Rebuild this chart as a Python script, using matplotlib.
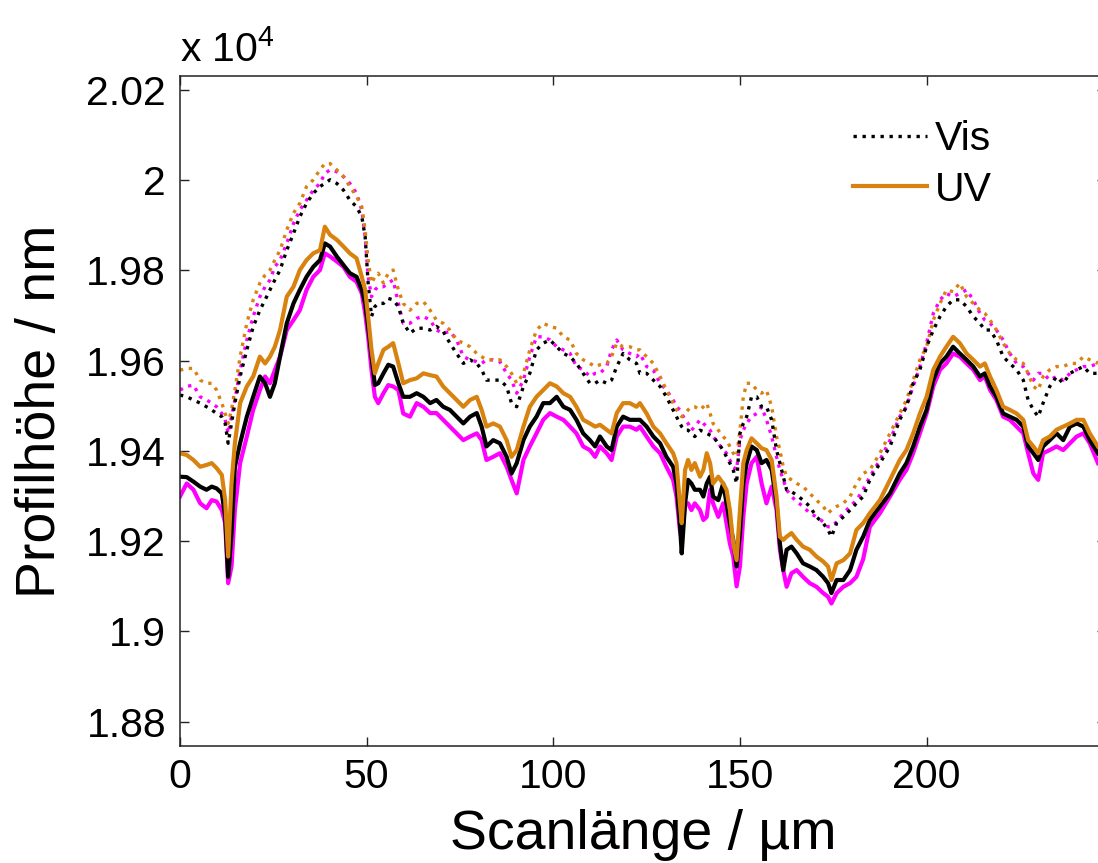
import matplotlib
matplotlib.use("Agg")
import matplotlib.pyplot as plt
from matplotlib.ticker import FuncFormatter

plt.rcParams['font.family'] = ['Liberation Sans', 'DejaVu Sans']
plt.rcParams['mathtext.fontset'] = 'custom'
plt.rcParams['mathtext.rm'] = 'Liberation Sans'
plt.rcParams['mathtext.default'] = 'regular'

# Scan length (µm)
x_um = [
    0.0, 1.8, 3.6, 5.4, 7.1, 8.5, 9.8, 11.2, 12.1, 12.9, 13.8, 14.7, 16.1, 17.9, 19.6, 21.4, 22.8, 24.1, 25.4, 26.8,
    28.6, 30.4, 32.1, 33.9, 35.7, 37.5, 38.8, 40.2, 42.0, 43.8, 45.5, 47.3, 48.7, 49.6, 50.4, 51.3, 52.2, 53.1, 54.5, 55.8,
    57.1, 58.5, 59.8,
    61.6, 63.4, 65.2, 67.0, 68.7, 70.5, 72.3, 74.1, 75.9, 77.7, 79.5, 80.8, 82.1, 83.9, 85.7, 87.5, 88.8, 90.2, 92.0, 93.7,
    95.5, 97.3, 99.1, 100.9, 102.7, 104.5, 106.2, 108.0, 109.8, 111.2, 112.5, 114.3, 115.6, 117.0, 118.7, 120.5, 122.3,
    123.2, 125.0, 126.8, 128.6, 130.3, 132.1, 133.0, 133.9, 134.4, 135.3, 136.1, 137.0, 137.9, 139.3, 140.2, 141.1, 142.0, 142.8, 144.2, 145.5,
    146.4, 147.3, 148.2, 149.1, 150.0, 150.9, 151.8, 153.1, 154.5, 155.8, 157.1, 158.5, 159.8, 160.7, 161.6, 162.5, 163.8, 165.2, 166.9, 168.7,
    170.5, 172.3, 173.6, 174.5, 175.9, 177.7, 179.5, 181.2, 183.0,
    184.8, 187.5, 190.2, 192.8, 194.6, 196.4, 198.2, 200.0, 201.8, 203.6, 205.3, 207.1, 208.9, 210.7, 212.5, 214.3, 215.6, 217.0, 218.7, 220.5,
    222.3, 224.1, 225.9, 227.2, 228.6, 229.9, 231.2, 233.0, 234.8, 236.6, 238.4, 240.2, 242.0, 243.7, 245.9,
]

# Profile height (nm) - Vis (dotted)
vis_black = [
    19524, 19520, 19513, 19506, 19498, 19491, 19483, 19476, 19461, 19417, 19461, 19506, 19565, 19624, 19675, 19712, 19735, 19757, 19779, 19801,
    19845, 19882, 19919, 19949, 19971, 19986, 19993, 20001, 19993, 19978, 19956, 19941, 19919, 19875, 19772, 19698, 19720, 19727, 19727, 19738,
    19735, 19720, 19683,
    19661, 19672, 19672, 19668, 19676, 19665, 19639, 19616, 19594, 19602, 19594, 19580, 19557, 19557, 19557, 19543, 19506, 19498, 19543, 19572,
    19624, 19639, 19646, 19631, 19616, 19609, 19594, 19572, 19550, 19550, 19557, 19550, 19557, 19587, 19616, 19602, 19594,
    19572, 19572, 19557, 19543, 19520, 19491, 19476, 19461, 19454, 19446, 19446, 19439, 19432, 19446, 19443, 19439, 19435, 19432, 19417, 19402,
    19387, 19373, 19358, 19328, 19439, 19461, 19476, 19520, 19520, 19498, 19498, 19469, 19402, 19373, 19343, 19314, 19310, 19302, 19291, 19277,
    19254, 19240, 19225, 19210, 19240, 19254, 19269, 19284, 19299,
    19336, 19373, 19410, 19469, 19498, 19550, 19580, 19631, 19668, 19698, 19720, 19735, 19735, 19720, 19698, 19683, 19668, 19668, 19646, 19609,
    19594, 19580, 19557, 19513, 19491, 19476, 19506, 19543, 19565, 19550, 19572, 19580, 19587, 19572, 19572,
]
vis_orange = [
    19579, 19583, 19583, 19557, 19550, 19550, 19535, 19506, 19483, 19461, 19491, 19535, 19609, 19683, 19735, 19772, 19790, 19801, 19823, 19845,
    19890, 19927, 19949, 19986, 20001, 20023, 20037, 20037, 20023, 20008, 19986, 19964, 19941, 19890, 19823, 19772, 19786, 19794, 19772, 19794,
    19801, 19757, 19727,
    19712, 19727, 19731, 19712, 19690, 19683, 19668, 19646, 19639, 19631, 19616, 19609, 19602, 19602, 19602, 19587, 19572, 19550, 19572, 19624,
    19668, 19683, 19676, 19672, 19653, 19646, 19616, 19602, 19594, 19587, 19591, 19594, 19609, 19639, 19631, 19631, 19624,
    19624, 19609, 19594, 19565, 19535, 19506, 19491, 19483, 19476, 19483, 19491, 19498, 19498, 19491, 19498, 19506, 19483, 19461, 19446, 19432,
    19424, 19410, 19395, 19387, 19446, 19520, 19550, 19550, 19535, 19528, 19535, 19498, 19432, 19402, 19365, 19343, 19336, 19328, 19321, 19306,
    19291, 19277, 19262, 19269, 19277, 19284, 19299, 19328, 19350,
    19358, 19395, 19439, 19483, 19513, 19557, 19602, 19631, 19690, 19727, 19757, 19753, 19772, 19742, 19727, 19712, 19705, 19690, 19668, 19639,
    19616, 19602, 19594, 19572, 19543, 19535, 19565, 19580, 19587, 19587, 19594, 19594, 19609, 19602, 19594,
]
vis_magenta = [
    19535, 19543, 19546, 19520, 19513, 19506, 19498, 19483, 19469, 19439, 19476, 19513, 19579, 19646, 19698, 19742, 19764, 19779, 19808, 19823,
    19860, 19904, 19934, 19956, 19978, 19993, 20015, 20023, 20019, 20008, 19993, 19971, 19934, 19875, 19786, 19742, 19757, 19764, 19764, 19772,
    19779, 19727, 19683,
    19683, 19694, 19698, 19690, 19668, 19661, 19665, 19646, 19609, 19602, 19598, 19594, 19602, 19602, 19598, 19572, 19557, 19528, 19557, 19609,
    19653, 19653, 19646, 19631, 19624, 19616, 19587, 19580, 19565, 19572, 19572, 19587, 19624, 19646, 19624, 19616, 19609,
    19616, 19587, 19579, 19550, 19535, 19513, 19498, 19491, 19483, 19469, 19461, 19446, 19454, 19469, 19461, 19454, 19446, 19432, 19417, 19402,
    19395, 19380, 19365, 19358, 19424, 19446, 19461, 19476, 19483, 19498, 19469, 19432, 19387, 19358, 19336, 19314, 19299, 19288, 19277, 19262,
    19254, 19243, 19232, 19232, 19243, 19262, 19277, 19291, 19314,
    19343, 19380, 19424, 19476, 19498, 19543, 19587, 19639, 19705, 19735, 19749, 19742, 19749, 19757, 19735, 19705, 19690, 19683, 19668, 19646,
    19616, 19594, 19587, 19572, 19557, 19572, 19572, 19557, 19565, 19557, 19572, 19580, 19587, 19587, 19594,
]

# Profile height (nm) - UV (solid)
uv_black = [
    19343, 19342, 19332, 19321, 19314, 19321, 19317, 19306, 19254, 19121, 19217, 19365, 19417, 19476, 19520, 19565, 19550, 19520, 19550, 19609,
    19683, 19727, 19757, 19786, 19808, 19823, 19860, 19853, 19831, 19812, 19794, 19786, 19757, 19727, 19675, 19609, 19546, 19550, 19572, 19591,
    19587, 19550, 19520,
    19520, 19528, 19520, 19506, 19513, 19498, 19491, 19476, 19461, 19476, 19484, 19454, 19410, 19424, 19417, 19387, 19350, 19373, 19424, 19454,
    19476, 19506, 19506, 19520, 19498, 19491, 19469, 19439, 19424, 19410, 19432, 19410, 19402, 19454, 19476, 19469, 19469,
    19469, 19454, 19432, 19417, 19387, 19365, 19328, 19240, 19173, 19284, 19336, 19328, 19314, 19314, 19299, 19328, 19343, 19299, 19291, 19328,
    19284, 19240, 19203, 19144, 19218, 19328, 19373, 19410, 19402, 19373, 19380, 19358, 19284, 19195, 19136, 19181, 19188, 19173, 19151, 19144,
    19136, 19121, 19107, 19085, 19114, 19114, 19136, 19181, 19210,
    19247, 19277, 19306, 19350, 19373, 19410, 19454, 19491, 19557, 19594, 19609, 19631, 19616, 19602, 19587, 19565, 19572, 19543, 19520, 19483,
    19476, 19469, 19454, 19410, 19395, 19380, 19410, 19424, 19439, 19424, 19454, 19461, 19454, 19424, 19395,
]
uv_orange = [
    19395, 19391, 19380, 19365, 19369, 19373, 19362, 19347, 19291, 19166, 19328, 19417, 19506, 19543, 19565, 19609, 19594, 19609, 19631, 19668,
    19742, 19764, 19801, 19823, 19838, 19845, 19897, 19879, 19868, 19853, 19838, 19827, 19786, 19757, 19698, 19624, 19572, 19594, 19624, 19631,
    19639, 19594, 19550,
    19557, 19561, 19572, 19568, 19565, 19543, 19528, 19513, 19498, 19513, 19520, 19491, 19454, 19461, 19454, 19424, 19387, 19402, 19454, 19498,
    19520, 19535, 19550, 19543, 19528, 19520, 19498, 19469, 19461, 19454, 19458, 19447, 19439, 19484, 19506, 19506, 19498,
    19506, 19483, 19454, 19439, 19417, 19395, 19373, 19284, 19240, 19358, 19380, 19358, 19373, 19343, 19358, 19395, 19373, 19328, 19343, 19328,
    19314, 19269, 19195, 19158, 19269, 19373, 19402, 19428, 19417, 19406, 19402, 19380, 19299, 19210, 19203, 19210, 19218, 19203, 19188, 19181,
    19166, 19155, 19144, 19114, 19151, 19158, 19173, 19225, 19240,
    19262, 19291, 19336, 19380, 19402, 19439, 19483, 19520, 19580, 19609, 19631, 19653, 19639, 19616, 19602, 19587, 19594, 19565, 19535, 19498,
    19491, 19483, 19469, 19424, 19410, 19395, 19424, 19432, 19447, 19454, 19461, 19469, 19469, 19439, 19410,
]
uv_magenta = [
    19299, 19328, 19314, 19284, 19273, 19291, 19288, 19269, 19240, 19107, 19144, 19269, 19373, 19432, 19491, 19535, 19565, 19550, 19579, 19609,
    19668, 19690, 19712, 19757, 19786, 19801, 19838, 19831, 19820, 19808, 19786, 19775, 19749, 19705, 19653, 19579, 19520, 19506, 19528, 19546,
    19543, 19535, 19483,
    19476, 19506, 19498, 19484, 19484, 19469, 19454, 19439, 19424, 19432, 19439, 19424, 19380, 19387, 19395, 19365, 19336, 19306, 19380, 19410,
    19439, 19469, 19484, 19476, 19469, 19454, 19439, 19410, 19402, 19387, 19410, 19395, 19380, 19432, 19454, 19454, 19447,
    19454, 19432, 19410, 19395, 19365, 19336, 19299, 19225, 19203, 19284, 19284, 19269, 19284, 19269, 19247, 19254, 19314, 19284, 19254, 19284,
    19240, 19195, 19166, 19100, 19144, 19254, 19328, 19373, 19387, 19328, 19284, 19321, 19269, 19181, 19136, 19099, 19129, 19136, 19121, 19107,
    19099, 19085, 19077, 19062, 19085, 19099, 19107, 19121, 19160,
    19232, 19262, 19299, 19336, 19358, 19395, 19439, 19483, 19543, 19580, 19594, 19616, 19609, 19594, 19580, 19557, 19565, 19535, 19513, 19476,
    19469, 19454, 19439, 19395, 19350, 19336, 19395, 19402, 19410, 19402, 19417, 19432, 19439, 19417, 19373,
]

x_ticks = [0, 50, 100, 150, 200]
y_ticks = [18800, 19000, 19200, 19400, 19600, 19800, 20000, 20200]

ORANGE = '#D8820F'
MAGENTA = '#FF00FF'
BLACK = '#000000'

W, H = 1098, 863
AX_W = 926  # right spine sits just beyond the image edge, as in the reference
fig = plt.figure(figsize=(W / 100, H / 100), dpi=100)
ax = fig.add_axes([180 / W, (H - 745.7) / H, AX_W / W, (745.7 - 76) / H])

dot = (0, (1.0, 1.7))
lw_dot = 2.4
lw_sol = 3.0
ax.plot(x_um, vis_magenta, color=MAGENTA, linestyle=dot, lw=lw_dot)
ax.plot(x_um, vis_orange, color=ORANGE, linestyle=dot, lw=lw_dot)
ax.plot(x_um, vis_black, color=BLACK, linestyle=dot, lw=lw_dot, label='Vis')
ax.plot(x_um, uv_magenta, color=MAGENTA, linestyle='-', lw=lw_sol)
ax.plot(x_um, uv_black, color=BLACK, linestyle='-', lw=lw_sol)
ax.plot(x_um, uv_orange, color=ORANGE, linestyle='-', lw=lw_sol, label='UV')

ax.set_xlim(0, AX_W / 3.733)
ax.set_ylim(18746.8, 20231)
ax.set_xticks(x_ticks)
ax.set_yticks(y_ticks)
ax.yaxis.set_major_formatter(FuncFormatter(lambda v, p: f"{v / 1e4:g}"))

for s in ax.spines.values():
    s.set_linewidth(1.1)
    s.set_color('#222222')
ax.tick_params(direction='in', length=6.5, width=1.0, top=True, right=True,
               labelsize=29.5, colors='#222222', labelcolor='black')
ax.tick_params(axis='y', pad=10)
ax.tick_params(axis='x', pad=9)

ax.set_xlabel('Scanlänge / µm', fontsize=40, labelpad=9)
ax.set_ylabel('Profilhöhe / nm', fontsize=40, labelpad=14)

ax.text(0.0, 1.0 + 14 / 670, r'x 10$^{4}$', transform=ax.transAxes,
        fontsize=29.5, ha='left', va='baseline')

leg = ax.legend(loc='upper left', bbox_to_anchor=((853 - 180) / AX_W, (745.7 - 120) / 670),
                frameon=False, fontsize=29.5, handlelength=1.8, handletextpad=0.2,
                labelspacing=0.3, borderpad=0, borderaxespad=0)

fig.savefig('out.png', dpi=100)
